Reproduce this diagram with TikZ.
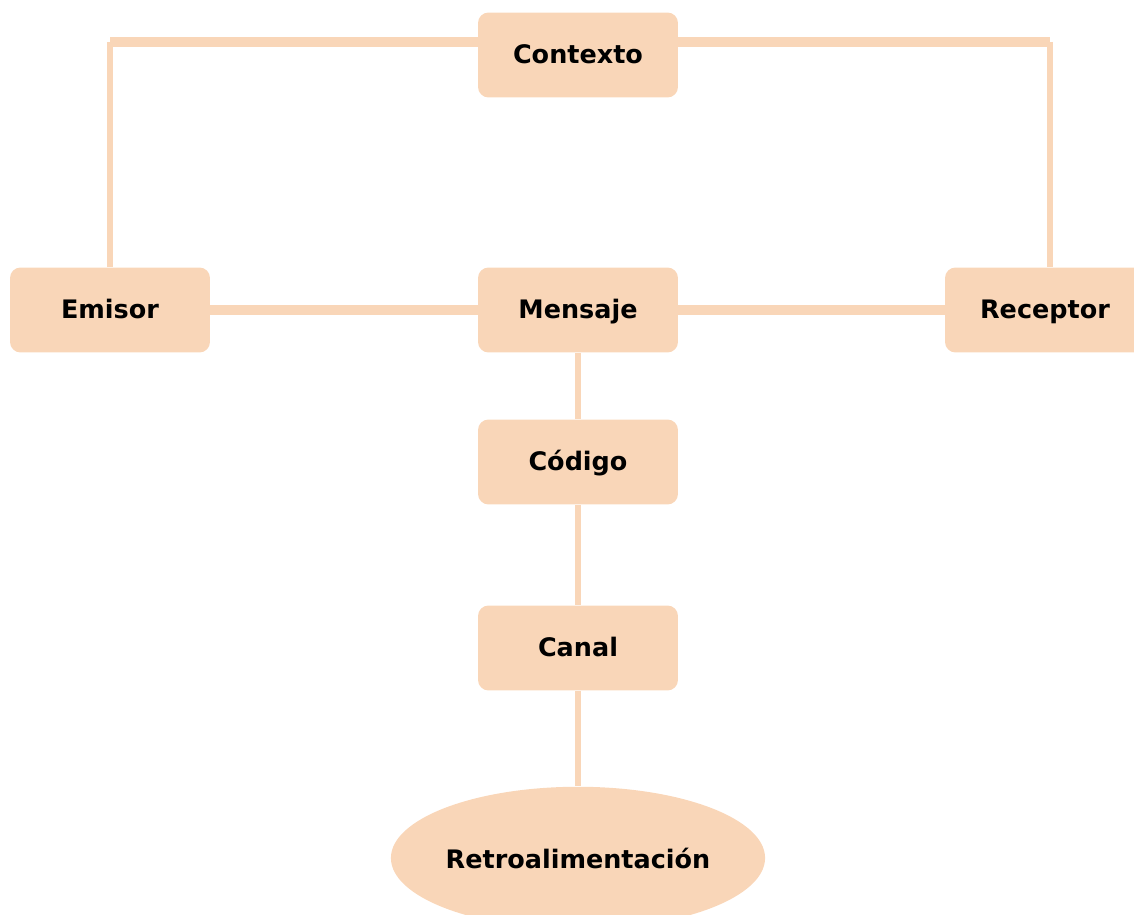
\documentclass[tikz,border=0pt]{standalone}
\usepackage{fontspec}
\setmainfont{DejaVu Sans}
\usetikzlibrary{positioning,shapes.geometric}

\begin{document}
\begin{tikzpicture}[x=0.02cm,y=-0.02cm]
\definecolor{durazno}{HTML}{F9D6B8}
\tikzset{
  caja/.style={fill=durazno,draw=none,rounded corners=6pt,minimum width=4cm,minimum height=1.7cm,text height=2.1ex,text depth=0.3ex,font=\bfseries\fontsize{14.5}{16}\selectfont},
  ovalo/.style={ellipse,fill=durazno,draw=none,inner sep=0pt,minimum width=7.4cm,minimum height=2.85cm,font=\bfseries\fontsize{14.5}{16}\selectfont},
  gruesa/.style={durazno,line width=6pt},
  fina/.style={durazno,line width=3pt}
}
\useasboundingbox (0,0) rectangle (1134,915);
\node[caja] (contexto) at (578,55) {Contexto};
\node[caja] (emisor) at (110,310) {Emisor};
\node[caja] (mensaje) at (578,310) {Mensaje};
\node[caja] (receptor) at (1045,310) {Receptor};
\node[caja] (codigo) at (578,462) {Código};
\node[caja] (canal) at (578,648) {Canal};
\node[ovalo] (retro) at (578,858) {Retroalimentación};
\coordinate (esqizq) at (110,42);
\coordinate (esqder) at (1050,42);
\draw[fina] (emisor) -- (esqizq);
\draw[fina] (esqder) -- (receptor.north -| esqder);
\draw[gruesa] (esqizq) -- (esqizq -| contexto.west);
\draw[gruesa] (esqder -| contexto.east) -- (esqder);
\draw[gruesa] (emisor) -- (mensaje);
\draw[gruesa] (mensaje) -- (receptor);
\foreach \a/\b in {mensaje/codigo,codigo/canal,canal/retro} {
  \draw[fina] (\a) -- (\b);
}
\end{tikzpicture}
\end{document}
